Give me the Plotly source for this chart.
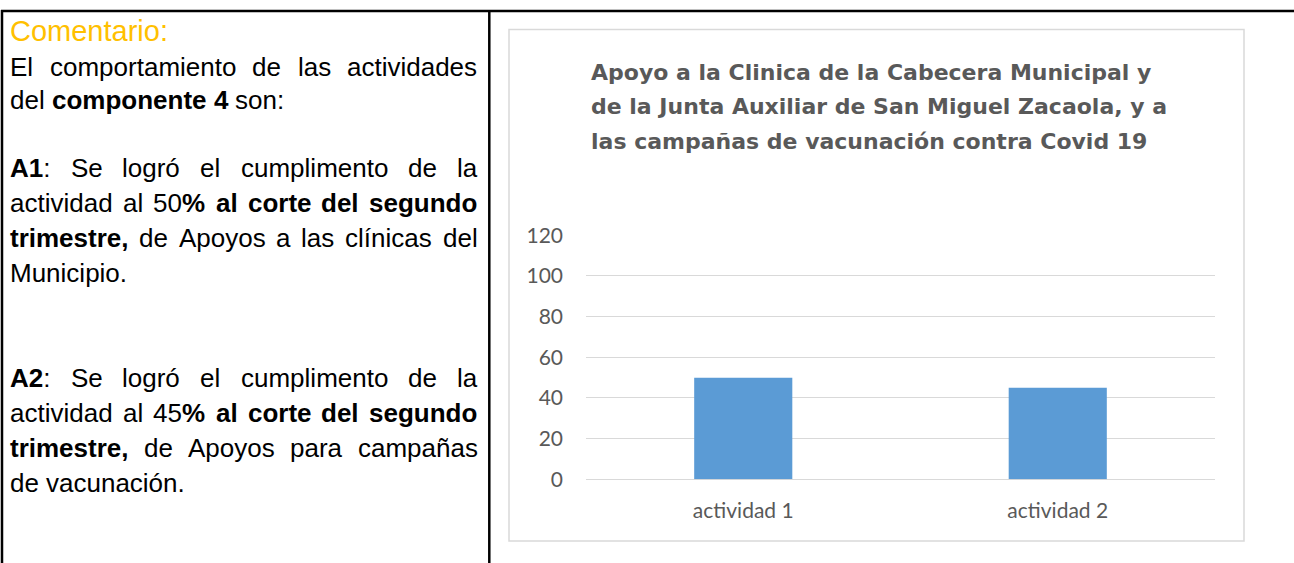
import plotly.graph_objects as go

W, H = 1294, 563

# ---------------- data ----------------
categories = ["actividad 1", "actividad 2"]
values = [50, 45]
y_ticks = [0, 20, 40, 60, 80, 100, 120]
title_lines = [
    "Apoyo a la Clinica de la Cabecera Municipal y",
    "de la Junta Auxiliar de San Miguel Zacaola, y a",
    "las campañas de vacunación contra Covid 19",
]
heading = "Comentario:"
# each line: list of (text, bold); flag = justified
p0 = [
    ([("El comportamiento de las actividades", False)], True),
    ([("del ", False), ("componente 4", True), (" son:", False)], False),
]
p1 = [
    ([("A1", True), (": Se logró el cumplimento de la", False)], True),
    ([("actividad al 50", False), ("% al corte del segundo", True)], True),
    ([("trimestre,", True), (" de Apoyos a las clínicas del", False)], True),
    ([("Municipio.", False)], False),
]
p2 = [
    ([("A2", True), (": Se logró el cumplimento de la", False)], True),
    ([("actividad al 45", False), ("% al corte del segundo", True)], True),
    ([("trimestre,", True), (" de Apoyos para campañas", False)], True),
    ([("de vacunación.", False)], False),
]

# ---------------- helpers ----------------
def px(x):
    return x / W

def py(y):
    return 1 - y / H

REG = {' ': 278, ',': 278, '.': 278, ':': 278, '%': 889,
       'A': 667, 'C': 722, 'E': 667, 'M': 833, 'S': 667,
       'a': 556, 'b': 556, 'c': 500, 'd': 556, 'e': 556, 'f': 278, 'g': 556,
       'h': 556, 'i': 222, 'j': 222, 'k': 500, 'l': 222, 'm': 833, 'n': 556,
       'o': 556, 'p': 556, 'q': 556, 'r': 333, 's': 500, 't': 278, 'u': 556,
       'v': 500, 'w': 722, 'x': 500, 'y': 500, 'z': 500,
       'ó': 556, 'í': 278, 'ñ': 556, 'á': 556, 'é': 556}
BOLD = {' ': 278, ',': 278, '.': 278, ':': 333, '%': 889,
        'A': 722, 'C': 722, 'E': 667, 'M': 833, 'S': 667,
        'a': 556, 'b': 611, 'c': 556, 'd': 611, 'e': 556, 'f': 333, 'g': 611,
        'h': 611, 'i': 278, 'j': 278, 'k': 556, 'l': 278, 'm': 889, 'n': 611,
        'o': 611, 'p': 611, 'q': 611, 'r': 389, 's': 556, 't': 333, 'u': 611,
        'v': 556, 'w': 778, 'x': 556, 'y': 556, 'z': 500}

def cw(ch, b):
    if ch.isdigit():
        return 556
    return (BOLD if b else REG).get(ch, 556)

BODY_FONT = "Liberation Sans, Arial, sans-serif"
BODY_SIZE = 26
LEFT, RIGHT = 10, 477.5

annotations = []

def add_text(x, ybase, text, size, color, font, anchor="left", k=0.3465):
    annotations.append(dict(
        x=px(x), y=py(ybase - k * size), xref="paper", yref="paper",
        xanchor=anchor, yanchor="middle", showarrow=False, text=text,
        borderpad=0, borderwidth=0,
        font=dict(family=font, size=size, color=color)))

def layout_line(segs, justify, ybase, size=BODY_SIZE):
    chars = []
    for t, b in segs:
        chars += [(c, b) for c in t]
    words, cur = [], []
    for c, b in chars:
        if c == ' ':
            if cur:
                words.append(cur)
                cur = []
        else:
            cur.append((c, b))
    if cur:
        words.append(cur)
    widths = [sum(cw(c, b) for c, b in w) * size / 1000 for w in words]
    if justify and len(words) > 1:
        gap = (RIGHT - LEFT - sum(widths)) / (len(words) - 1)
    else:
        gap = 278 * size / 1000
    x = LEFT
    for w, wd in zip(words, widths):
        html, buf, bb = "", "", None
        for c, b in w:
            if bb is not None and b != bb:
                html += f"<b>{buf}</b>" if bb else buf
                buf = ""
            buf += c
            bb = b
        html += f"<b>{buf}</b>" if bb else buf
        add_text(x, ybase, html, size, "#000000", BODY_FONT)
        x += wd + gap

# heading
add_text(LEFT, 40.7, heading, 29, "#FFC000", BODY_FONT)
for i, (segs, j) in enumerate(p0):
    layout_line(segs, j, [76.0, 109.5][i])
for i, (segs, j) in enumerate(p1):
    layout_line(segs, j, 177.3 + 35 * i)
for i, (segs, j) in enumerate(p2):
    layout_line(segs, j, 387.3 + 35 * i)

# chart title
TITLE_FONT = "DejaVu Sans, sans-serif"
CH_FONT = "Lato, Calibri, sans-serif"
for i, line in enumerate(title_lines):
    add_text(591, [80.0, 114.5, 149.0][i], f"<b>{line}</b>", 22, "#595959", TITLE_FONT, k=0.346)

# ---------------- figure ----------------
fig = go.Figure(go.Bar(
    x=categories, y=values, marker=dict(color="#5B9BD5", line=dict(width=0)),
    hoverinfo="skip"))

shapes = [
    # outer table frame
    dict(type="line", xref="paper", yref="paper", x0=px(1), x1=1, y0=py(11), y1=py(11),
         line=dict(color="black", width=2.5)),
    dict(type="line", xref="paper", yref="paper", x0=px(2), x1=px(2), y0=py(10), y1=0,
         line=dict(color="black", width=2.5)),
    dict(type="line", xref="paper", yref="paper", x0=px(489.3), x1=px(489.3), y0=py(10), y1=0,
         line=dict(color="black", width=2.5)),
    # chart box
    dict(type="rect", xref="paper", yref="paper", x0=px(509), x1=px(1244), y0=py(29.5), y1=py(541),
         line=dict(color="#D9D9D9", width=1.5), layer="below"),
]

fig.update_layout(
    width=W, height=H, margin=dict(l=0, r=0, t=0, b=0, pad=0, autoexpand=False),
    paper_bgcolor="white", plot_bgcolor="white",
    showlegend=False, bargap=0.688,
    shapes=shapes, annotations=annotations,
    xaxis=dict(domain=[px(586), px(1215)], showgrid=False, showline=False, zeroline=False,
               ticks="", ticklabelstandoff=17, automargin=False,
               tickfont=dict(family=CH_FONT, size=21, color="#595959"), fixedrange=True),
    yaxis=dict(domain=[py(479.3), py(235.3)], range=[0, 120], tickvals=y_ticks,
               showgrid=True, gridcolor="#D9D9D9", gridwidth=1.3,
               zeroline=True, zerolinecolor="#D9D9D9", zerolinewidth=1.3,
               showline=False, ticks="", ticklabelstandoff=22, automargin=False,
               tickfont=dict(family=CH_FONT, size=21, color="#595959"), fixedrange=True),
)

fig.write_html("out.html", config={"displayModeBar": False},
               post_script="document.body.style.margin='0';document.body.style.overflow='hidden';")
